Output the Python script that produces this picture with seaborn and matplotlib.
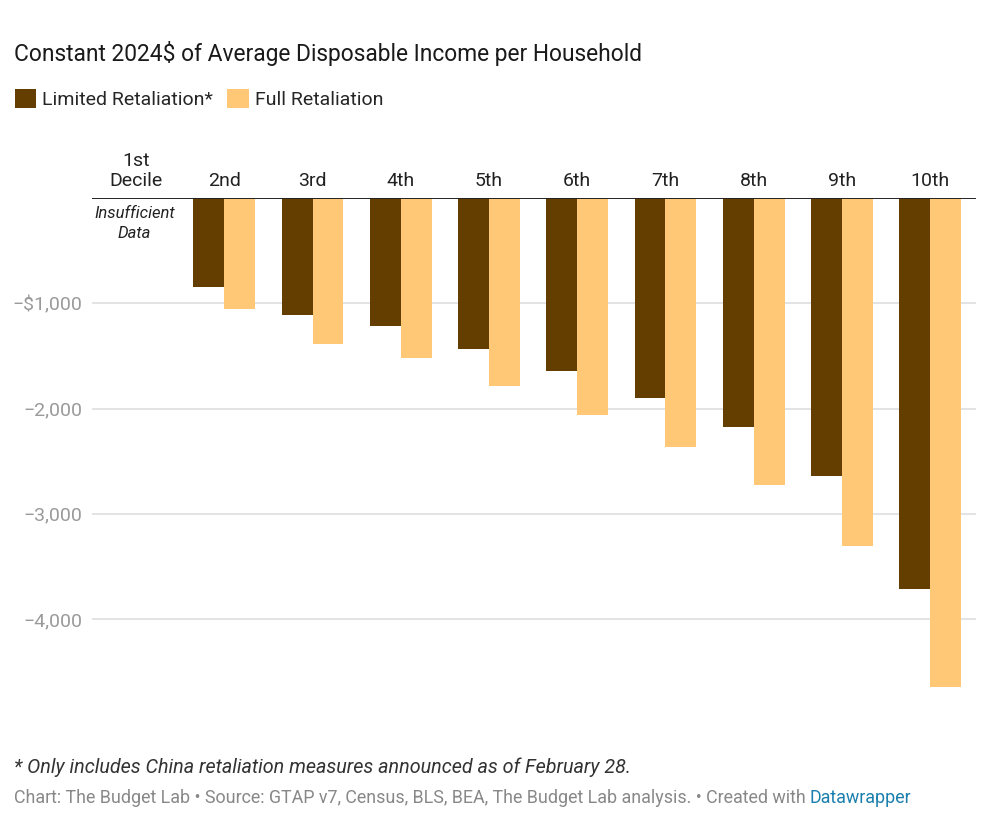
import numpy as np
import pandas as pd
import matplotlib
matplotlib.use("Agg")
import matplotlib.pyplot as plt
import seaborn as sns
from matplotlib.patches import Patch

# data (dollars per household)
DECILES = ["1st\nDecile", "2nd", "3rd", "4th", "5th", "6th", "7th", "8th", "9th", "10th"]
LIMITED = [np.nan, -845, -1111, -1216, -1434, -1643, -1899, -2175, -2640, -3713]
FULL    = [np.nan, -1054, -1387, -1519, -1785, -2061, -2365, -2726, -3305, -4644]
SCENARIOS = ["Limited Retaliation*", "Full Retaliation"]
COLORS = ["#643e00", "#fec876"]
Y_TICKS = [-1000, -2000, -3000, -4000]
Y_LABELS = ["\u2212$1,000", "\u22122,000", "\u22123,000", "\u22124,000"]

df = pd.DataFrame({
    "decile": DECILES * 2,
    "value": LIMITED + FULL,
    "scenario": [SCENARIOS[0]] * len(DECILES) + [SCENARIOS[1]] * len(DECILES),
})

sns.set_theme(style="white")
plt.rcParams["font.family"] = ["Roboto", "DejaVu Sans"]

fig = plt.figure(figsize=(10, 8.26), dpi=100)
ax = fig.add_axes([0.092, 1 - 698 / 826, 0.884, 500 / 826])

sns.barplot(data=df, x="decile", y="value", hue="scenario", order=DECILES,
            hue_order=SCENARIOS, palette=COLORS, width=0.7, gap=0,
            errorbar=None, saturation=1, linewidth=0, legend=False, ax=ax)

ax.set_xlim(-0.50, 9.52)
ax.set_ylim(-4750, 0)
ax.set_yticks(Y_TICKS)
ax.set_yticklabels(Y_LABELS)
ax.tick_params(axis="y", length=0, pad=7.2, labelsize=14, labelcolor="#9a9a9a")
ax.xaxis.tick_top()
ax.tick_params(axis="x", length=0, pad=5.5, labelsize=14, labelcolor="#222222")
ax.set_xlabel("")
ax.set_ylabel("")
for y in Y_TICKS:
    ax.axhline(y, color="#e3e3e3", lw=1.4, zorder=0)
ax.axhline(0, color="#222222", lw=1.4, zorder=3)
for s in ax.spines.values():
    s.set_visible(False)

ax.text(-0.02, -75, "Insufficient\nData", ha="center", va="top", fontsize=12,
        style="italic", color="#222222", linespacing=1.45)

# title and legend
fig.text(0.014, 1 - 54 / 826, "Constant 2024$ of Average Disposable Income per Household",
         fontsize=16.4, color="#1a1a1a", va="center")
handles = [Patch(facecolor=c, edgecolor="none") for c in COLORS]
fig.legend(handles, SCENARIOS, loc="center left", bbox_to_anchor=(0.007, 1 - 99 / 826),
           ncol=2, frameon=False, fontsize=14, handlelength=1.1, handleheight=1.1,
           handletextpad=0.3, columnspacing=0.75, borderaxespad=0)

# notes
fig.text(0.014, 1 - 767 / 826, "* Only includes China retaliation measures announced as of February 28.",
         fontsize=14.2, style="italic", color="#333333", va="center")
t1 = fig.text(0.014, 1 - 807 / 826,
              "Chart: The Budget Lab \u2022 Source: GTAP v7, Census, BLS, BEA, The Budget Lab analysis. \u2022 Created with",
              fontsize=12.9, color="#888888", va="bottom")
ax.annotate("Datawrapper", xy=(1, 0), xycoords=t1, xytext=(3, 0), textcoords="offset points",
            fontsize=12.9, color="#1b7fae", va="bottom", ha="left", annotation_clip=False)

fig.savefig("out.png", dpi=100)
